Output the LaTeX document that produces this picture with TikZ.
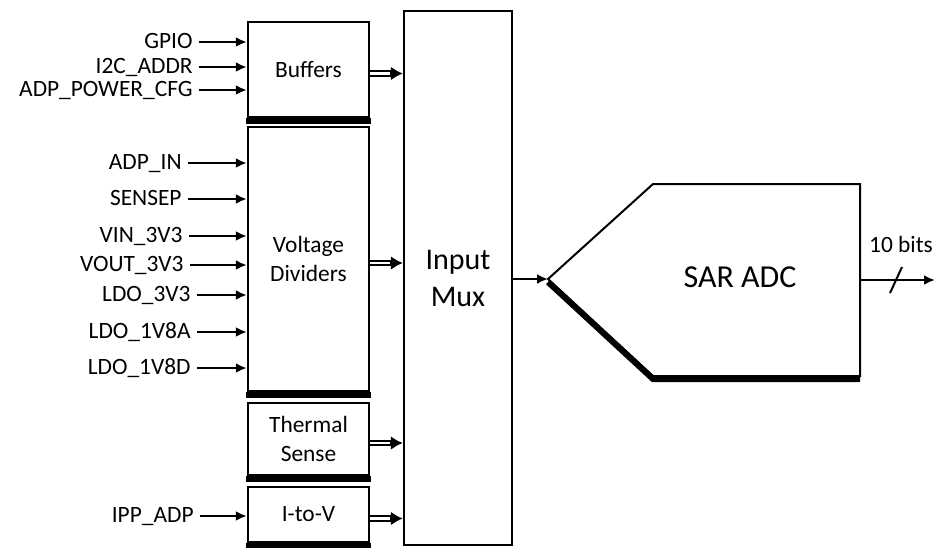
\documentclass[tikz,border=0pt]{standalone}
\usepackage{fontspec}
\setmainfont{Carlito}
\usetikzlibrary{arrows.meta}

\begin{document}
\begin{tikzpicture}[x=0.5pt, y=-0.5pt,
			>={Latex[length=5.5pt,width=5pt]},   %Pfeilspitzen
			blk/.style={draw, line width=1.2pt, inner sep=0pt, align=center, font=\fontsize{11.7}{14.5}\selectfont},
			lbl/.style={anchor=east, inner xsep=3pt, inner ysep=0pt, text height=0.644em, text depth=0pt, font=\fontsize{11.7}{14}\selectfont},
			sig/.style={->, line width=1.1pt},
			bus/.style={-{Latex[length=6pt,width=7pt]}, line width=3.4pt, postaction={draw=white, -, line width=1.2pt, shorten >=6.5pt}},
			shade/.style={line width=3pt}]
			\useasboundingbox (0,0) rectangle (935,547);
			% Bloecke links
			\node[blk, minimum width=60.5pt, minimum height=47.5pt] (buf) at (308.5,69.5) {Buffers};
			\node[blk, minimum width=60.5pt, minimum height=132pt] (vdiv) at (308.5,259) {Voltage\\Dividers};
			\node[blk, minimum width=60.5pt, minimum height=36pt] (therm) at (308.5,439) {Thermal\\Sense};
			\node[blk, minimum width=60.5pt, minimum height=27.5pt] (itov) at (308.5,514.5) {I-to-V};
			% Schatten unten
			\foreach \b in {buf,vdiv,therm,itov}
				\draw[shade] ([shift={(-0.6pt,-1.5pt)}]\b.south west) -- ([shift={(0.6pt,-1.5pt)}]\b.south east);
			% Multiplexer
			\node[blk, minimum width=54pt, minimum height=267pt, font=\fontsize{15}{18.5}\selectfont] (mux) at (458,278) {Input\\Mux};
			% Eingaenge
			\foreach \n/\x/\y/\t in {gpio/199/42/GPIO, i2c/199/67/I2C\_ADDR, pcfg/199/90/ADP\_POWER\_CFG}{
				\node[lbl] (\n) at (\x,\y) {\t};
				\draw[sig] (\n) -- (\n -| buf.west);
			}
			\foreach \n/\x/\y/\t in {adpin/188/163/ADP\_IN, sensep/188/199/SENSEP, vin/189/236/VIN\_3V3, vout/190/265/VOUT\_3V3,
				ldoa/197/295/LDO\_3V3, ldob/197/332/LDO\_1V8A, ldoc/197/368/LDO\_1V8D}{
				\node[lbl] (\n) at (\x,\y) {\t};
				\draw[sig] (\n) -- (\n -| vdiv.west);
			}
			\node[lbl] (ipp) at (200,516) {IPP\_ADP};
			\draw[sig] (ipp) -- (ipp -| itov.west);
			% Busse zum Mux
			\foreach \b in {buf,vdiv,therm,itov}
				\draw[bus] ([yshift=-2pt]\b.east) -- ([yshift=-2pt]\b.east -| mux.west);
			% SAR ADC
			\coordinate (adcin) at (548,279);
			\coordinate (adctl) at (653,184);
			\coordinate (adctr) at (860,184);
			\coordinate (adcbr) at (860,376);
			\coordinate (adcbl) at (653,376);
			\draw[shade] ([yshift=-1.5pt]adcin) -- ([yshift=-1.5pt]adcbl) -- ([yshift=-1.5pt]adcbr);
			\draw[line width=1pt] (adcin) -- (adctl) -- (adctr) -- (adcbr) -- (adcbl) -- cycle;
			\node[font=\fontsize{16}{19}\selectfont] (adc) at (740,277) {SAR ADC};
			\draw[sig] (mux.east |- adcin) -- (adcin);
			% Ausgang
			\coordinate (adcout) at (860,280);
			\coordinate (dout) at (935,280);
			\draw[sig] (adcout) -- (dout);
			\draw[line width=1pt] (890,293) -- (902,267);
			\node[inner sep=0pt, anchor=base, font=\fontsize{11.7}{14}\selectfont] (bits) at (901,252) {10 bits};
\end{tikzpicture}
\end{document}
